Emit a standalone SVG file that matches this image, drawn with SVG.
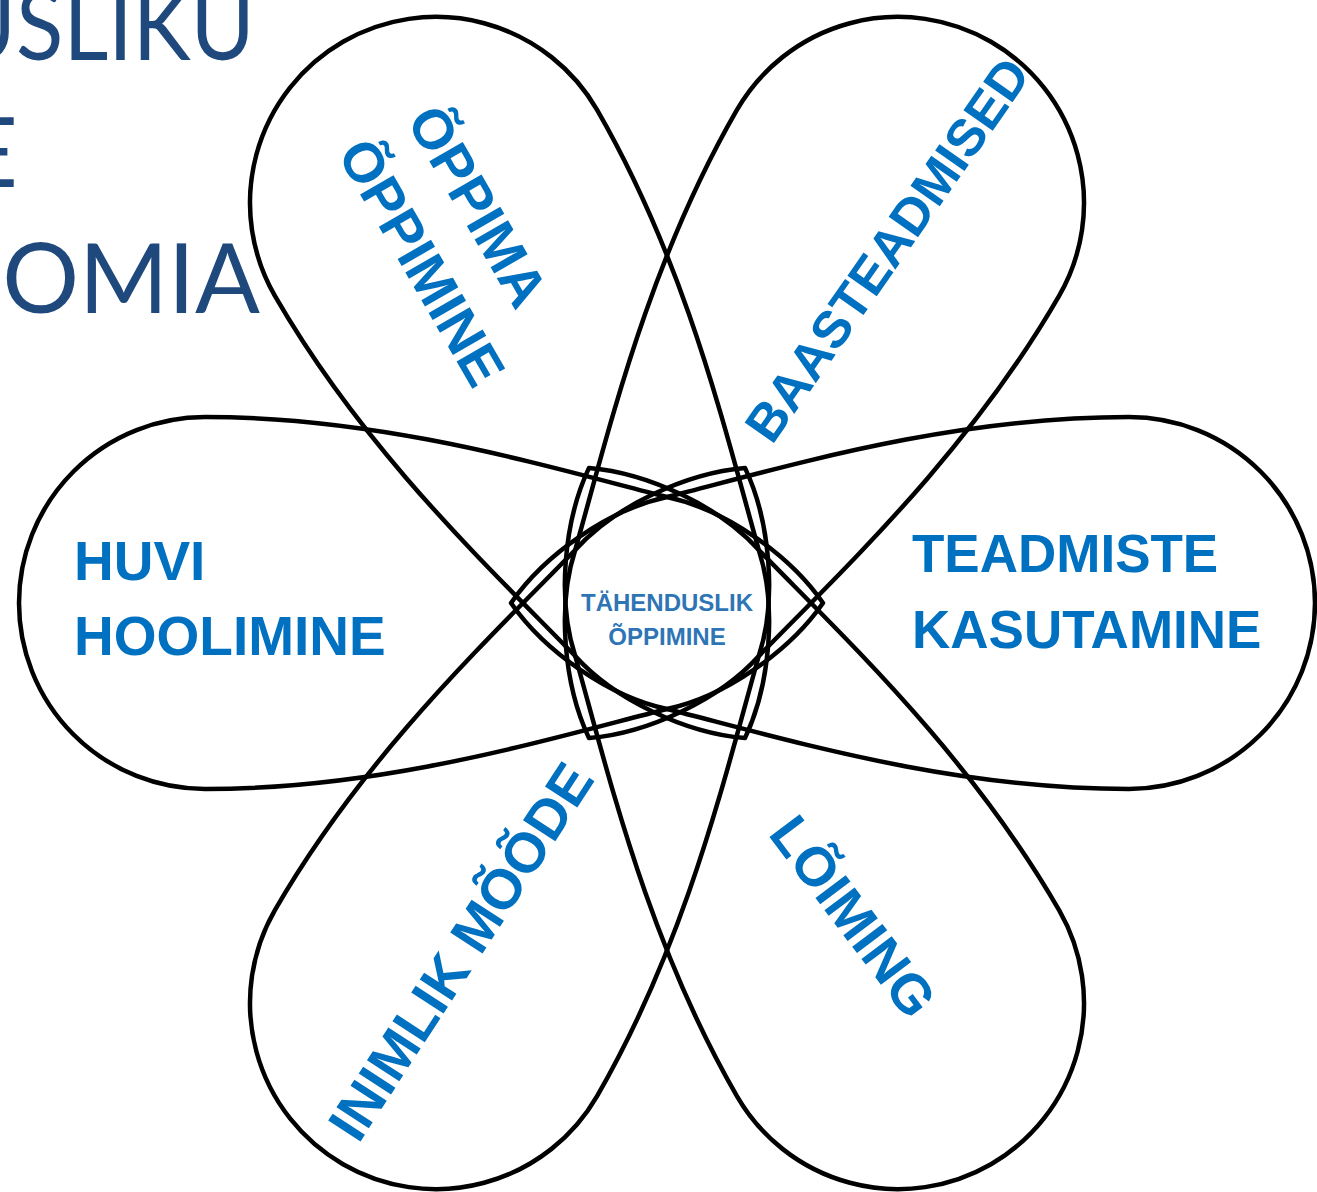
<svg xmlns="http://www.w3.org/2000/svg" xmlns:xlink="http://www.w3.org/1999/xlink" width="1317" height="1192" viewBox="0 0 1317 1192">
<style>
.petal{fill:none;stroke:#000;stroke-width:4.5;stroke-linejoin:round}
.lbl{font-family:"Liberation Sans",Arial,sans-serif;font-weight:bold;fill:#0070C0}
.big{font-size:53px}
.rot{font-size:56px;text-anchor:middle}
.ctr{font-family:"Liberation Sans",Arial,sans-serif;font-weight:bold;fill:#2E75B6;font-size:24px;text-anchor:middle}
.title{font-family:Lato,"Open Sans",sans-serif;fill:#1F497D;font-size:96px;text-anchor:end}
</style>
<defs>
<path id="petal" class="petal" d="M156,0 C122,-49 57,-94 0,-106 C-118.5,-136 -282,-186 -462,-186 A186,186 0 0 0 -462,186 C-282,186 -118.5,136 0,106 C57,94 122,49 156,0 Z"/>
</defs>
<rect width="1317" height="1192" fill="#fff"/>
<g id="title">
<text class="title" transform="scale(0.91 1)" x="280" y="60">USLIKU</text>
<text class="title" x="18" y="187">E</text>
<text class="title" x="260" y="313">OMIA</text>
</g>
<g id="connectors"></g>
<g id="petal-huvi">
<use xlink:href="#petal" transform="translate(667 603) rotate(0)"/>
<text class="lbl big" style="font-size:55px" x="74" y="580">HUVI</text>
<text class="lbl big" style="font-size:55px" x="74" y="655">HOOLIMINE</text>
</g>
<g id="petal-oppima">
<use xlink:href="#petal" transform="translate(667 603) rotate(60)"/>
<text class="lbl rot" transform="translate(461 216) rotate(60)">ÕPPIMA</text>
<text class="lbl rot" transform="translate(405 272) rotate(60)">ÕPPIMINE</text>
</g>
<g id="petal-baasteadmised">
<use xlink:href="#petal" transform="translate(667 603) rotate(120)"/>
<text class="lbl rot" style="font-size:52px" transform="translate(902 260) rotate(-55)">BAASTEADMISED</text>
</g>
<g id="petal-teadmiste">
<use xlink:href="#petal" transform="translate(667 603) rotate(180)"/>
<text class="lbl big" x="912" y="572">TEADMISTE</text>
<text class="lbl big" x="912" y="648">KASUTAMINE</text>
</g>
<g id="petal-loiming">
<use xlink:href="#petal" transform="translate(667 603) rotate(240)"/>
<text class="lbl rot" style="font-size:55px" transform="translate(838 928) rotate(53)">LÕIMING</text>
</g>
<g id="petal-inimlik">
<use xlink:href="#petal" transform="translate(667 603) rotate(300)"/>
<text class="lbl rot" transform="translate(477 962) rotate(-57)">INIMLIK MÕÕDE</text>
</g>
<g id="center">
<text class="ctr" x="667" y="611">TÄHENDUSLIK</text>
<text class="ctr" x="667" y="645">ÕPPIMINE</text>
</g>
</svg>
